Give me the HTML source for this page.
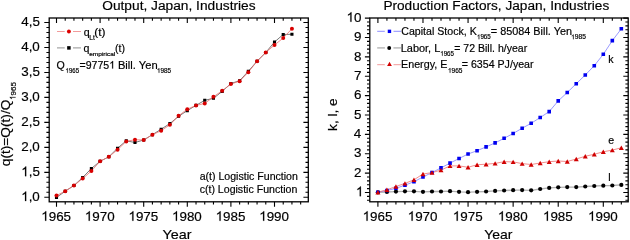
<!DOCTYPE html>
<html><head><meta charset="utf-8"><style>
html,body{margin:0;padding:0;background:#fff;overflow:hidden}
svg{display:block;will-change:transform}
text{font-family:"Liberation Sans", sans-serif;fill:#000;stroke:#000;stroke-width:0.18px}
</style></head><body>
<svg width="630" height="240" viewBox="0 0 630 240">
<rect width="630" height="240" fill="#fff"/>
<rect x="49.2" y="18.0" width="259.10" height="183.80" fill="none" stroke="#000" stroke-width="1.3"/>
<path d="M56.50 201.80v4.9M56.50 18.00v4.9M100.10 201.80v4.9M100.10 18.00v4.9M143.70 201.80v4.9M143.70 18.00v4.9M187.30 201.80v4.9M187.30 18.00v4.9M230.90 201.80v4.9M230.90 18.00v4.9M274.50 201.80v4.9M274.50 18.00v4.9M65.22 201.80v2.8M65.22 18.00v2.8M73.94 201.80v2.8M73.94 18.00v2.8M82.66 201.80v2.8M82.66 18.00v2.8M91.38 201.80v2.8M91.38 18.00v2.8M108.82 201.80v2.8M108.82 18.00v2.8M117.54 201.80v2.8M117.54 18.00v2.8M126.26 201.80v2.8M126.26 18.00v2.8M134.98 201.80v2.8M134.98 18.00v2.8M152.42 201.80v2.8M152.42 18.00v2.8M161.14 201.80v2.8M161.14 18.00v2.8M169.86 201.80v2.8M169.86 18.00v2.8M178.58 201.80v2.8M178.58 18.00v2.8M196.02 201.80v2.8M196.02 18.00v2.8M204.74 201.80v2.8M204.74 18.00v2.8M213.46 201.80v2.8M213.46 18.00v2.8M222.18 201.80v2.8M222.18 18.00v2.8M239.62 201.80v2.8M239.62 18.00v2.8M248.34 201.80v2.8M248.34 18.00v2.8M257.06 201.80v2.8M257.06 18.00v2.8M265.78 201.80v2.8M265.78 18.00v2.8M283.22 201.80v2.8M283.22 18.00v2.8M291.94 201.80v2.8M291.94 18.00v2.8M300.66 201.80v2.8M300.66 18.00v2.8M49.20 197.30h-4.9M308.30 197.30h-4.9M49.20 172.33h-4.9M308.30 172.33h-4.9M49.20 147.35h-4.9M308.30 147.35h-4.9M49.20 122.38h-4.9M308.30 122.38h-4.9M49.20 97.40h-4.9M308.30 97.40h-4.9M49.20 72.43h-4.9M308.30 72.43h-4.9M49.20 47.45h-4.9M308.30 47.45h-4.9M49.20 22.47h-4.9M308.30 22.47h-4.9M49.20 192.31h-2.8M308.30 192.31h-2.8M49.20 187.31h-2.8M308.30 187.31h-2.8M49.20 182.31h-2.8M308.30 182.31h-2.8M49.20 177.32h-2.8M308.30 177.32h-2.8M49.20 167.33h-2.8M308.30 167.33h-2.8M49.20 162.34h-2.8M308.30 162.34h-2.8M49.20 157.34h-2.8M308.30 157.34h-2.8M49.20 152.35h-2.8M308.30 152.35h-2.8M49.20 142.36h-2.8M308.30 142.36h-2.8M49.20 137.36h-2.8M308.30 137.36h-2.8M49.20 132.37h-2.8M308.30 132.37h-2.8M49.20 127.37h-2.8M308.30 127.37h-2.8M49.20 117.38h-2.8M308.30 117.38h-2.8M49.20 112.38h-2.8M308.30 112.38h-2.8M49.20 107.39h-2.8M308.30 107.39h-2.8M49.20 102.40h-2.8M308.30 102.40h-2.8M49.20 92.41h-2.8M308.30 92.41h-2.8M49.20 87.41h-2.8M308.30 87.41h-2.8M49.20 82.42h-2.8M308.30 82.42h-2.8M49.20 77.42h-2.8M308.30 77.42h-2.8M49.20 67.43h-2.8M308.30 67.43h-2.8M49.20 62.44h-2.8M308.30 62.44h-2.8M49.20 57.44h-2.8M308.30 57.44h-2.8M49.20 52.45h-2.8M308.30 52.45h-2.8M49.20 42.46h-2.8M308.30 42.46h-2.8M49.20 37.46h-2.8M308.30 37.46h-2.8M49.20 32.47h-2.8M308.30 32.47h-2.8M49.20 27.47h-2.8M308.30 27.47h-2.8" stroke="#000" stroke-width="1.1" fill="none"/>
<rect x="369.8" y="18.0" width="258.40" height="183.80" fill="none" stroke="#000" stroke-width="1.3"/>
<path d="M377.90 201.80v4.9M377.90 18.00v4.9M422.98 201.80v4.9M422.98 18.00v4.9M468.06 201.80v4.9M468.06 18.00v4.9M513.14 201.80v4.9M513.14 18.00v4.9M558.22 201.80v4.9M558.22 18.00v4.9M603.30 201.80v4.9M603.30 18.00v4.9M386.92 201.80v2.8M386.92 18.00v2.8M395.93 201.80v2.8M395.93 18.00v2.8M404.95 201.80v2.8M404.95 18.00v2.8M413.96 201.80v2.8M413.96 18.00v2.8M432.00 201.80v2.8M432.00 18.00v2.8M441.01 201.80v2.8M441.01 18.00v2.8M450.03 201.80v2.8M450.03 18.00v2.8M459.04 201.80v2.8M459.04 18.00v2.8M477.08 201.80v2.8M477.08 18.00v2.8M486.09 201.80v2.8M486.09 18.00v2.8M495.11 201.80v2.8M495.11 18.00v2.8M504.12 201.80v2.8M504.12 18.00v2.8M522.16 201.80v2.8M522.16 18.00v2.8M531.17 201.80v2.8M531.17 18.00v2.8M540.19 201.80v2.8M540.19 18.00v2.8M549.20 201.80v2.8M549.20 18.00v2.8M567.24 201.80v2.8M567.24 18.00v2.8M576.25 201.80v2.8M576.25 18.00v2.8M585.27 201.80v2.8M585.27 18.00v2.8M594.28 201.80v2.8M594.28 18.00v2.8M612.32 201.80v2.8M612.32 18.00v2.8M621.33 201.80v2.8M621.33 18.00v2.8M369.80 192.50h-4.9M628.20 192.50h-4.9M369.80 173.12h-4.9M628.20 173.12h-4.9M369.80 153.74h-4.9M628.20 153.74h-4.9M369.80 134.36h-4.9M628.20 134.36h-4.9M369.80 114.98h-4.9M628.20 114.98h-4.9M369.80 95.60h-4.9M628.20 95.60h-4.9M369.80 76.22h-4.9M628.20 76.22h-4.9M369.80 56.84h-4.9M628.20 56.84h-4.9M369.80 37.46h-4.9M628.20 37.46h-4.9M369.80 18.08h-4.9M628.20 18.08h-4.9M369.80 200.25h-2.8M628.20 200.25h-2.8M369.80 196.38h-2.8M628.20 196.38h-2.8M369.80 188.62h-2.8M628.20 188.62h-2.8M369.80 184.75h-2.8M628.20 184.75h-2.8M369.80 180.87h-2.8M628.20 180.87h-2.8M369.80 177.00h-2.8M628.20 177.00h-2.8M369.80 169.24h-2.8M628.20 169.24h-2.8M369.80 165.37h-2.8M628.20 165.37h-2.8M369.80 161.49h-2.8M628.20 161.49h-2.8M369.80 157.62h-2.8M628.20 157.62h-2.8M369.80 149.86h-2.8M628.20 149.86h-2.8M369.80 145.99h-2.8M628.20 145.99h-2.8M369.80 142.11h-2.8M628.20 142.11h-2.8M369.80 138.24h-2.8M628.20 138.24h-2.8M369.80 130.48h-2.8M628.20 130.48h-2.8M369.80 126.61h-2.8M628.20 126.61h-2.8M369.80 122.73h-2.8M628.20 122.73h-2.8M369.80 118.86h-2.8M628.20 118.86h-2.8M369.80 111.10h-2.8M628.20 111.10h-2.8M369.80 107.23h-2.8M628.20 107.23h-2.8M369.80 103.35h-2.8M628.20 103.35h-2.8M369.80 99.48h-2.8M628.20 99.48h-2.8M369.80 91.72h-2.8M628.20 91.72h-2.8M369.80 87.85h-2.8M628.20 87.85h-2.8M369.80 83.97h-2.8M628.20 83.97h-2.8M369.80 80.10h-2.8M628.20 80.10h-2.8M369.80 72.34h-2.8M628.20 72.34h-2.8M369.80 68.47h-2.8M628.20 68.47h-2.8M369.80 64.59h-2.8M628.20 64.59h-2.8M369.80 60.72h-2.8M628.20 60.72h-2.8M369.80 52.96h-2.8M628.20 52.96h-2.8M369.80 49.09h-2.8M628.20 49.09h-2.8M369.80 45.21h-2.8M628.20 45.21h-2.8M369.80 41.34h-2.8M628.20 41.34h-2.8M369.80 33.58h-2.8M628.20 33.58h-2.8M369.80 29.71h-2.8M628.20 29.71h-2.8M369.80 25.83h-2.8M628.20 25.83h-2.8M369.80 21.96h-2.8M628.20 21.96h-2.8" stroke="#000" stroke-width="1.1" fill="none"/>
<polyline points="56.50,197.50 65.22,191.20 73.94,185.50 82.66,177.50 91.38,168.50 100.10,161.30 108.82,156.80 117.54,148.20 126.26,140.80 134.98,142.50 143.70,140.00 152.42,134.70 161.14,129.20 169.86,123.60 178.58,116.30 187.30,110.60 196.02,105.40 204.74,100.30 213.46,98.30 222.18,91.40 230.90,83.50 239.62,80.70 248.34,71.25 257.06,61.25 265.78,52.50 274.50,42.00 283.22,34.50 291.94,34.25" fill="none" stroke="#666" stroke-width="0.9"/>
<polyline points="56.50,195.50 65.22,191.20 73.94,185.50 82.66,178.60 91.38,171.00 100.10,161.30 108.82,156.80 117.54,149.70 126.26,141.40 134.98,139.70 143.70,140.00 152.42,134.70 161.14,130.70 169.86,124.80 178.58,115.80 187.30,109.20 196.02,105.40 204.74,103.50 213.46,96.80 222.18,90.75 230.90,84.00 239.62,81.20 248.34,72.20 257.06,61.25 265.78,52.50 274.50,45.00 283.22,38.00 291.94,28.75" fill="none" stroke="#f07070" stroke-width="0.8"/>
<path d="M54.95 195.95h3.1v3.1h-3.1zM63.67 189.65h3.1v3.1h-3.1zM72.39 183.95h3.1v3.1h-3.1zM81.11 175.95h3.1v3.1h-3.1zM89.83 166.95h3.1v3.1h-3.1zM98.55 159.75h3.1v3.1h-3.1zM107.27 155.25h3.1v3.1h-3.1zM115.99 146.65h3.1v3.1h-3.1zM124.71 139.25h3.1v3.1h-3.1zM133.43 140.95h3.1v3.1h-3.1zM142.15 138.45h3.1v3.1h-3.1zM150.87 133.15h3.1v3.1h-3.1zM159.59 127.65h3.1v3.1h-3.1zM168.31 122.05h3.1v3.1h-3.1zM177.03 114.75h3.1v3.1h-3.1zM185.75 109.05h3.1v3.1h-3.1zM194.47 103.85h3.1v3.1h-3.1zM203.19 98.75h3.1v3.1h-3.1zM211.91 96.75h3.1v3.1h-3.1zM220.63 89.85h3.1v3.1h-3.1zM229.35 81.95h3.1v3.1h-3.1zM238.07 79.15h3.1v3.1h-3.1zM246.79 69.70h3.1v3.1h-3.1zM255.51 59.70h3.1v3.1h-3.1zM264.23 50.95h3.1v3.1h-3.1zM272.95 40.45h3.1v3.1h-3.1zM281.67 32.95h3.1v3.1h-3.1zM290.39 32.70h3.1v3.1h-3.1z" fill="#000"/>
<circle cx="56.50" cy="195.50" r="2.0" fill="#d80000"/>
<circle cx="65.22" cy="191.20" r="2.0" fill="#d80000"/>
<circle cx="73.94" cy="185.50" r="2.0" fill="#d80000"/>
<circle cx="82.66" cy="178.60" r="2.0" fill="#d80000"/>
<circle cx="91.38" cy="171.00" r="2.0" fill="#d80000"/>
<circle cx="100.10" cy="161.30" r="2.0" fill="#d80000"/>
<circle cx="108.82" cy="156.80" r="2.0" fill="#d80000"/>
<circle cx="117.54" cy="149.70" r="2.0" fill="#d80000"/>
<circle cx="126.26" cy="141.40" r="2.0" fill="#d80000"/>
<circle cx="134.98" cy="139.70" r="2.0" fill="#d80000"/>
<circle cx="143.70" cy="140.00" r="2.0" fill="#d80000"/>
<circle cx="152.42" cy="134.70" r="2.0" fill="#d80000"/>
<circle cx="161.14" cy="130.70" r="2.0" fill="#d80000"/>
<circle cx="169.86" cy="124.80" r="2.0" fill="#d80000"/>
<circle cx="178.58" cy="115.80" r="2.0" fill="#d80000"/>
<circle cx="187.30" cy="109.20" r="2.0" fill="#d80000"/>
<circle cx="196.02" cy="105.40" r="2.0" fill="#d80000"/>
<circle cx="204.74" cy="103.50" r="2.0" fill="#d80000"/>
<circle cx="213.46" cy="96.80" r="2.0" fill="#d80000"/>
<circle cx="222.18" cy="90.75" r="2.0" fill="#d80000"/>
<circle cx="230.90" cy="84.00" r="2.0" fill="#d80000"/>
<circle cx="239.62" cy="81.20" r="2.0" fill="#d80000"/>
<circle cx="248.34" cy="72.20" r="2.0" fill="#d80000"/>
<circle cx="257.06" cy="61.25" r="2.0" fill="#d80000"/>
<circle cx="265.78" cy="52.50" r="2.0" fill="#d80000"/>
<circle cx="274.50" cy="45.00" r="2.0" fill="#d80000"/>
<circle cx="283.22" cy="38.00" r="2.0" fill="#d80000"/>
<circle cx="291.94" cy="28.75" r="2.0" fill="#d80000"/>
<polyline points="377.90,192.30 386.92,192.00 395.93,191.60 404.95,191.30 413.96,191.30 422.98,191.80 432.00,191.50 441.01,191.50 450.03,191.20 459.04,191.80 468.06,192.20 477.08,191.80 486.09,191.50 495.11,190.90 504.12,190.50 513.14,190.20 522.16,190.10 531.17,190.30 540.19,189.00 549.20,187.90 558.22,187.30 567.24,187.10 576.25,187.10 585.27,186.50 594.28,186.00 603.30,185.70 612.32,185.50 621.33,184.90" fill="none" stroke="#b0b0b0" stroke-width="1.3"/>
<polyline points="377.90,192.20 386.92,190.50 395.93,188.30 404.95,185.20 413.96,181.70 422.98,177.00 432.00,172.50 441.01,167.90 450.03,163.10 459.04,158.50 468.06,154.00 477.08,150.70 486.09,146.90 495.11,142.90 504.12,138.30 513.14,133.50 522.16,128.20 531.17,123.30 540.19,117.50 549.20,111.60 558.22,100.90 567.24,92.50 576.25,83.70 585.27,75.00 594.28,65.70 603.30,54.30 612.32,40.65 621.33,28.80" fill="none" stroke="#8080ff" stroke-width="0.8"/>
<polyline points="377.90,192.20 386.92,189.80 395.93,186.50 404.95,183.40 413.96,179.80 422.98,174.00 432.00,172.60 441.01,170.10 450.03,165.90 459.04,165.90 468.06,167.25 477.08,164.75 486.09,164.20 495.11,163.40 504.12,161.70 513.14,161.90 522.16,163.60 531.17,164.50 540.19,163.00 549.20,161.70 558.22,161.00 567.24,161.50 576.25,159.00 585.27,156.25 594.28,154.25 603.30,151.75 612.32,150.10 621.33,147.75" fill="none" stroke="#f07070" stroke-width="0.8"/>
<circle cx="377.90" cy="192.30" r="2.1" fill="#000"/>
<circle cx="386.92" cy="192.00" r="2.1" fill="#000"/>
<circle cx="395.93" cy="191.60" r="2.1" fill="#000"/>
<circle cx="404.95" cy="191.30" r="2.1" fill="#000"/>
<circle cx="413.96" cy="191.30" r="2.1" fill="#000"/>
<circle cx="422.98" cy="191.80" r="2.1" fill="#000"/>
<circle cx="432.00" cy="191.50" r="2.1" fill="#000"/>
<circle cx="441.01" cy="191.50" r="2.1" fill="#000"/>
<circle cx="450.03" cy="191.20" r="2.1" fill="#000"/>
<circle cx="459.04" cy="191.80" r="2.1" fill="#000"/>
<circle cx="468.06" cy="192.20" r="2.1" fill="#000"/>
<circle cx="477.08" cy="191.80" r="2.1" fill="#000"/>
<circle cx="486.09" cy="191.50" r="2.1" fill="#000"/>
<circle cx="495.11" cy="190.90" r="2.1" fill="#000"/>
<circle cx="504.12" cy="190.50" r="2.1" fill="#000"/>
<circle cx="513.14" cy="190.20" r="2.1" fill="#000"/>
<circle cx="522.16" cy="190.10" r="2.1" fill="#000"/>
<circle cx="531.17" cy="190.30" r="2.1" fill="#000"/>
<circle cx="540.19" cy="189.00" r="2.1" fill="#000"/>
<circle cx="549.20" cy="187.90" r="2.1" fill="#000"/>
<circle cx="558.22" cy="187.30" r="2.1" fill="#000"/>
<circle cx="567.24" cy="187.10" r="2.1" fill="#000"/>
<circle cx="576.25" cy="187.10" r="2.1" fill="#000"/>
<circle cx="585.27" cy="186.50" r="2.1" fill="#000"/>
<circle cx="594.28" cy="186.00" r="2.1" fill="#000"/>
<circle cx="603.30" cy="185.70" r="2.1" fill="#000"/>
<circle cx="612.32" cy="185.50" r="2.1" fill="#000"/>
<circle cx="621.33" cy="184.90" r="2.1" fill="#000"/>
<path d="M376.10 190.40h3.6v3.6h-3.6zM385.12 188.70h3.6v3.6h-3.6zM394.13 186.50h3.6v3.6h-3.6zM403.15 183.40h3.6v3.6h-3.6zM412.16 179.90h3.6v3.6h-3.6zM421.18 175.20h3.6v3.6h-3.6zM430.20 170.70h3.6v3.6h-3.6zM439.21 166.10h3.6v3.6h-3.6zM448.23 161.30h3.6v3.6h-3.6zM457.24 156.70h3.6v3.6h-3.6zM466.26 152.20h3.6v3.6h-3.6zM475.28 148.90h3.6v3.6h-3.6zM484.29 145.10h3.6v3.6h-3.6zM493.31 141.10h3.6v3.6h-3.6zM502.32 136.50h3.6v3.6h-3.6zM511.34 131.70h3.6v3.6h-3.6zM520.36 126.40h3.6v3.6h-3.6zM529.37 121.50h3.6v3.6h-3.6zM538.39 115.70h3.6v3.6h-3.6zM547.40 109.80h3.6v3.6h-3.6zM556.42 99.10h3.6v3.6h-3.6zM565.44 90.70h3.6v3.6h-3.6zM574.45 81.90h3.6v3.6h-3.6zM583.47 73.20h3.6v3.6h-3.6zM592.48 63.90h3.6v3.6h-3.6zM601.50 52.50h3.6v3.6h-3.6zM610.52 38.85h3.6v3.6h-3.6zM619.53 27.00h3.6v3.6h-3.6z" fill="#0000f0"/>
<path d="M377.90 190.02L380.40 194.38L375.40 194.38zM386.92 187.62L389.42 191.98L384.42 191.98zM395.93 184.32L398.43 188.68L393.43 188.68zM404.95 181.22L407.45 185.58L402.45 185.58zM413.96 177.62L416.46 181.98L411.46 181.98zM422.98 171.82L425.48 176.18L420.48 176.18zM432.00 170.42L434.50 174.78L429.50 174.78zM441.01 167.92L443.51 172.28L438.51 172.28zM450.03 163.72L452.53 168.08L447.53 168.08zM459.04 163.72L461.54 168.08L456.54 168.08zM468.06 165.07L470.56 169.43L465.56 169.43zM477.08 162.57L479.58 166.93L474.58 166.93zM486.09 162.02L488.59 166.38L483.59 166.38zM495.11 161.22L497.61 165.58L492.61 165.58zM504.12 159.52L506.62 163.88L501.62 163.88zM513.14 159.72L515.64 164.08L510.64 164.08zM522.16 161.42L524.66 165.78L519.66 165.78zM531.17 162.32L533.67 166.68L528.67 166.68zM540.19 160.82L542.69 165.18L537.69 165.18zM549.20 159.52L551.70 163.88L546.70 163.88zM558.22 158.82L560.72 163.18L555.72 163.18zM567.24 159.32L569.74 163.68L564.74 163.68zM576.25 156.82L578.75 161.18L573.75 161.18zM585.27 154.07L587.77 158.43L582.77 158.43zM594.28 152.07L596.78 156.43L591.78 156.43zM603.30 149.57L605.80 153.93L600.80 153.93zM612.32 147.92L614.82 152.28L609.82 152.28zM621.33 145.57L623.83 149.93L618.83 149.93z" fill="#d00000"/>
<text x="21.20" y="201.10" font-size="13.4" > ,0</text>
<path transform="translate(21.20,201.10) scale(0.00654,-0.00654)" d="M763 0H583V1147Q518 1085 412 1023T222 930V1104Q372 1175 484 1276T643 1472H763Z" fill="#000" stroke="#000" stroke-width="0.18" vector-effect="non-scaling-stroke"/>
<text x="21.23" y="176.13" font-size="13.4" > ,5</text>
<path transform="translate(21.23,176.13) scale(0.00654,-0.00654)" d="M763 0H583V1147Q518 1085 412 1023T222 930V1104Q372 1175 484 1276T643 1472H763Z" fill="#000" stroke="#000" stroke-width="0.18" vector-effect="non-scaling-stroke"/>
<text x="21.20" y="151.15" font-size="13.4" >2,0</text>
<text x="21.23" y="126.17" font-size="13.4" >2,5</text>
<text x="21.20" y="101.20" font-size="13.4" >3,0</text>
<text x="21.23" y="76.23" font-size="13.4" >3,5</text>
<text x="21.20" y="51.25" font-size="13.4" >4,0</text>
<text x="21.23" y="26.27" font-size="13.4" >4,5</text>
<text x="41.25" y="220.80" font-size="13.4" > 965</text>
<path transform="translate(41.25,220.80) scale(0.00654,-0.00654)" d="M763 0H583V1147Q518 1085 412 1023T222 930V1104Q372 1175 484 1276T643 1472H763Z" fill="#000" stroke="#000" stroke-width="0.18" vector-effect="non-scaling-stroke"/>
<text x="84.83" y="220.80" font-size="13.4" > 970</text>
<path transform="translate(84.83,220.80) scale(0.00654,-0.00654)" d="M763 0H583V1147Q518 1085 412 1023T222 930V1104Q372 1175 484 1276T643 1472H763Z" fill="#000" stroke="#000" stroke-width="0.18" vector-effect="non-scaling-stroke"/>
<text x="128.45" y="220.80" font-size="13.4" > 975</text>
<path transform="translate(128.45,220.80) scale(0.00654,-0.00654)" d="M763 0H583V1147Q518 1085 412 1023T222 930V1104Q372 1175 484 1276T643 1472H763Z" fill="#000" stroke="#000" stroke-width="0.18" vector-effect="non-scaling-stroke"/>
<text x="172.03" y="220.80" font-size="13.4" > 980</text>
<path transform="translate(172.03,220.80) scale(0.00654,-0.00654)" d="M763 0H583V1147Q518 1085 412 1023T222 930V1104Q372 1175 484 1276T643 1472H763Z" fill="#000" stroke="#000" stroke-width="0.18" vector-effect="non-scaling-stroke"/>
<text x="215.65" y="220.80" font-size="13.4" > 985</text>
<path transform="translate(215.65,220.80) scale(0.00654,-0.00654)" d="M763 0H583V1147Q518 1085 412 1023T222 930V1104Q372 1175 484 1276T643 1472H763Z" fill="#000" stroke="#000" stroke-width="0.18" vector-effect="non-scaling-stroke"/>
<text x="259.23" y="220.80" font-size="13.4" > 990</text>
<path transform="translate(259.23,220.80) scale(0.00654,-0.00654)" d="M763 0H583V1147Q518 1085 412 1023T222 930V1104Q372 1175 484 1276T643 1472H763Z" fill="#000" stroke="#000" stroke-width="0.18" vector-effect="non-scaling-stroke"/>
<text x="355.91" y="196.20" font-size="13.4" > </text>
<path transform="translate(355.91,196.20) scale(0.00654,-0.00654)" d="M763 0H583V1147Q518 1085 412 1023T222 930V1104Q372 1175 484 1276T643 1472H763Z" fill="#000" stroke="#000" stroke-width="0.18" vector-effect="non-scaling-stroke"/>
<text x="354.12" y="176.82" font-size="13.4" >2</text>
<text x="354.04" y="157.44" font-size="13.4" >3</text>
<text x="353.84" y="138.06" font-size="13.4" >4</text>
<text x="354.01" y="118.68" font-size="13.4" >5</text>
<text x="354.04" y="99.30" font-size="13.4" >6</text>
<text x="354.12" y="79.92" font-size="13.4" >7</text>
<text x="354.03" y="60.54" font-size="13.4" >8</text>
<text x="354.08" y="41.16" font-size="13.4" >9</text>
<text x="346.52" y="21.78" font-size="13.4" > 0</text>
<path transform="translate(346.52,21.78) scale(0.00654,-0.00654)" d="M763 0H583V1147Q518 1085 412 1023T222 930V1104Q372 1175 484 1276T643 1472H763Z" fill="#000" stroke="#000" stroke-width="0.18" vector-effect="non-scaling-stroke"/>
<text x="362.65" y="220.80" font-size="13.4" > 965</text>
<path transform="translate(362.65,220.80) scale(0.00654,-0.00654)" d="M763 0H583V1147Q518 1085 412 1023T222 930V1104Q372 1175 484 1276T643 1472H763Z" fill="#000" stroke="#000" stroke-width="0.18" vector-effect="non-scaling-stroke"/>
<text x="407.71" y="220.80" font-size="13.4" > 970</text>
<path transform="translate(407.71,220.80) scale(0.00654,-0.00654)" d="M763 0H583V1147Q518 1085 412 1023T222 930V1104Q372 1175 484 1276T643 1472H763Z" fill="#000" stroke="#000" stroke-width="0.18" vector-effect="non-scaling-stroke"/>
<text x="452.81" y="220.80" font-size="13.4" > 975</text>
<path transform="translate(452.81,220.80) scale(0.00654,-0.00654)" d="M763 0H583V1147Q518 1085 412 1023T222 930V1104Q372 1175 484 1276T643 1472H763Z" fill="#000" stroke="#000" stroke-width="0.18" vector-effect="non-scaling-stroke"/>
<text x="497.87" y="220.80" font-size="13.4" > 980</text>
<path transform="translate(497.87,220.80) scale(0.00654,-0.00654)" d="M763 0H583V1147Q518 1085 412 1023T222 930V1104Q372 1175 484 1276T643 1472H763Z" fill="#000" stroke="#000" stroke-width="0.18" vector-effect="non-scaling-stroke"/>
<text x="542.97" y="220.80" font-size="13.4" > 985</text>
<path transform="translate(542.97,220.80) scale(0.00654,-0.00654)" d="M763 0H583V1147Q518 1085 412 1023T222 930V1104Q372 1175 484 1276T643 1472H763Z" fill="#000" stroke="#000" stroke-width="0.18" vector-effect="non-scaling-stroke"/>
<text x="588.03" y="220.80" font-size="13.4" > 990</text>
<path transform="translate(588.03,220.80) scale(0.00654,-0.00654)" d="M763 0H583V1147Q518 1085 412 1023T222 930V1104Q372 1175 484 1276T643 1472H763Z" fill="#000" stroke="#000" stroke-width="0.18" vector-effect="non-scaling-stroke"/>
<text x="102.25" y="10.10" font-size="13.7" textLength="153.35" lengthAdjust="spacingAndGlyphs" >Output, Japan, Industries</text>
<text x="383.38" y="10.10" font-size="13.7" textLength="225.91" lengthAdjust="spacingAndGlyphs" >Production Factors, Japan, Industries</text>
<text x="162.50" y="239.30" font-size="13.6" textLength="29.03" lengthAdjust="spacingAndGlyphs" >Year</text>
<text x="484.31" y="239.30" font-size="13.6" textLength="28.22" lengthAdjust="spacingAndGlyphs" >Year</text>
<g transform="translate(10.00,166.18) rotate(-90)">
<text x="0.00" y="0.00" font-size="13.7" >q(t)=Q(t)/Q</text>
</g>
<g transform="translate(15.50,99.87) rotate(-90)">
<text x="0.00" y="0.00" font-size="8.0" > 965</text>
<path transform="translate(0.00,0.00) scale(0.00391,-0.00391)" d="M763 0H583V1147Q518 1085 412 1023T222 930V1104Q372 1175 484 1276T643 1472H763Z" fill="#000" stroke="#000" stroke-width="0.18" vector-effect="non-scaling-stroke"/>
</g>
<g transform="translate(337.00,130.92) rotate(-90)">
<text x="0.00" y="0.00" font-size="13.6" >k, l, e</text>
</g>
<path d="M57.0 31.5h7.7M73.0 31.5h8.0" stroke="#f09090" stroke-width="0.9"/>
<circle cx="68.90" cy="31.50" r="1.95" fill="#dd0000"/>
<path d="M57.0 47.9h7.7M73.0 47.9h8.0" stroke="#a8a8a8" stroke-width="1.1"/>
<path d="M67.15 46.15h3.5v3.5h-3.5z" fill="#000"/>
<text x="83.65" y="35.70" font-size="10.6" >q</text>
<text x="89.36" y="40.20" font-size="6.4" textLength="5.49" lengthAdjust="spacingAndGlyphs" >Lt</text>
<text x="94.27" y="35.70" font-size="10.6" textLength="11.17" lengthAdjust="spacingAndGlyphs" >(t)</text>
<text x="83.55" y="51.90" font-size="10.6" >q</text>
<text x="89.22" y="55.60" font-size="5.7" textLength="26.11" lengthAdjust="spacingAndGlyphs" >empirical</text>
<text x="115.04" y="51.90" font-size="10.6" textLength="10.02" lengthAdjust="spacingAndGlyphs" >(t)</text>
<text x="56.60" y="68.60" font-size="10.6" >Q</text>
<text x="65.54" y="72.80" font-size="6.4" textLength="13.51" lengthAdjust="spacingAndGlyphs" > 965</text>
<path transform="translate(65.54,72.80) scale(0.00297,-0.00313)" d="M763 0H583V1147Q518 1085 412 1023T222 930V1104Q372 1175 484 1276T643 1472H763Z" fill="#000" stroke="#000" stroke-width="0.18" vector-effect="non-scaling-stroke"/>
<text x="79.48" y="68.60" font-size="10.6" textLength="35.56" lengthAdjust="spacingAndGlyphs" >=9775 </text>
<path transform="translate(109.16,68.60) scale(0.00516,-0.00518)" d="M763 0H583V1147Q518 1085 412 1023T222 930V1104Q372 1175 484 1276T643 1472H763Z" fill="#000" stroke="#000" stroke-width="0.18" vector-effect="non-scaling-stroke"/>
<text x="117.91" y="68.60" font-size="10.6" textLength="39.69" lengthAdjust="spacingAndGlyphs" >Bill. Yen</text>
<text x="156.91" y="72.80" font-size="6.4" textLength="14.16" lengthAdjust="spacingAndGlyphs" > 985</text>
<path transform="translate(156.91,72.80) scale(0.00311,-0.00313)" d="M763 0H583V1147Q518 1085 412 1023T222 930V1104Q372 1175 484 1276T643 1472H763Z" fill="#000" stroke="#000" stroke-width="0.18" vector-effect="non-scaling-stroke"/>
<text x="199.65" y="180.00" font-size="10.6" textLength="98.24" lengthAdjust="spacingAndGlyphs" >a(t) Logistic Function</text>
<text x="199.65" y="192.50" font-size="10.6" textLength="97.64" lengthAdjust="spacingAndGlyphs" >c(t) Logistic Function</text>
<path d="M377.2 31.3h7.6M393.5 31.3h7.6" stroke="#8080ff" stroke-width="0.9"/>
<path d="M387.75 29.65h3.4v3.4h-3.4z" fill="#0000ee"/>
<path d="M377.2 47.9h7.7M393.4 47.9h7.6" stroke="#c4c4c4" stroke-width="1.6"/>
<circle cx="389.20" cy="48.00" r="1.95" fill="#000"/>
<path d="M377.2 64.7h7.6M393.5 64.7h7.6" stroke="#f09090" stroke-width="0.9"/>
<path d="M389.50 61.81L391.90 65.99L387.10 65.99z" fill="#d00000"/>
<text x="401.26" y="34.80" font-size="10.6" textLength="75.56" lengthAdjust="spacingAndGlyphs" >Capital Stock, K</text>
<text x="476.93" y="39.20" font-size="6.4" textLength="13.84" lengthAdjust="spacingAndGlyphs" > 965</text>
<path transform="translate(476.93,39.20) scale(0.00304,-0.00313)" d="M763 0H583V1147Q518 1085 412 1023T222 930V1104Q372 1175 484 1276T643 1472H763Z" fill="#000" stroke="#000" stroke-width="0.18" vector-effect="non-scaling-stroke"/>
<text x="490.88" y="34.80" font-size="10.6" textLength="81.07" lengthAdjust="spacingAndGlyphs" >= 85084 Bill. Yen</text>
<text x="571.08" y="39.20" font-size="6.4" textLength="14.80" lengthAdjust="spacingAndGlyphs" > 985</text>
<path transform="translate(571.08,39.20) scale(0.00325,-0.00313)" d="M763 0H583V1147Q518 1085 412 1023T222 930V1104Q372 1175 484 1276T643 1472H763Z" fill="#000" stroke="#000" stroke-width="0.18" vector-effect="non-scaling-stroke"/>
<text x="400.72" y="51.60" font-size="10.6" textLength="39.54" lengthAdjust="spacingAndGlyphs" >Labor, L</text>
<text x="440.23" y="55.70" font-size="6.4" textLength="13.73" lengthAdjust="spacingAndGlyphs" > 965</text>
<path transform="translate(440.23,55.70) scale(0.00301,-0.00313)" d="M763 0H583V1147Q518 1085 412 1023T222 930V1104Q372 1175 484 1276T643 1472H763Z" fill="#000" stroke="#000" stroke-width="0.18" vector-effect="non-scaling-stroke"/>
<text x="454.29" y="51.60" font-size="10.6" textLength="72.89" lengthAdjust="spacingAndGlyphs" >= 72 Bill. h/year</text>
<text x="401.03" y="68.40" font-size="10.6" textLength="46.32" lengthAdjust="spacingAndGlyphs" >Energy, E</text>
<text x="447.89" y="72.70" font-size="6.4" textLength="14.59" lengthAdjust="spacingAndGlyphs" > 965</text>
<path transform="translate(447.89,72.70) scale(0.00320,-0.00313)" d="M763 0H583V1147Q518 1085 412 1023T222 930V1104Q372 1175 484 1276T643 1472H763Z" fill="#000" stroke="#000" stroke-width="0.18" vector-effect="non-scaling-stroke"/>
<text x="461.78" y="68.40" font-size="10.6" textLength="71.80" lengthAdjust="spacingAndGlyphs" >= 6354 PJ/year</text>
<text x="608.29" y="62.70" font-size="10.6" >k</text>
<text x="608.35" y="144.20" font-size="10.6" >e</text>
<text x="608.29" y="180.80" font-size="10.6" >l</text>
</svg>
</body></html>
